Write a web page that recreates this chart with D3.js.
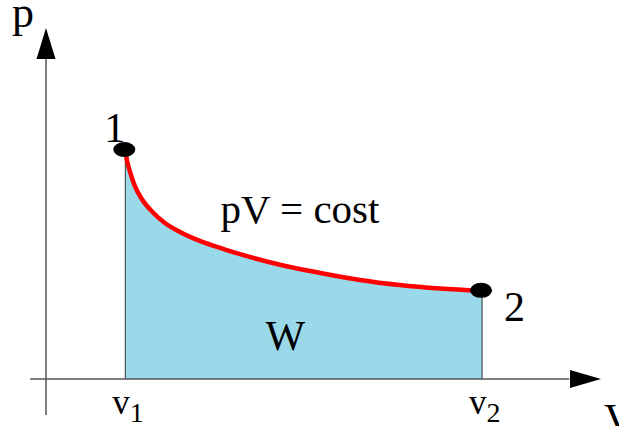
<!DOCTYPE html>
<html lang="en">
<head>
   <meta charset="UTF-8">
   <script src="https://cdn.jsdelivr.net/npm/d3@7/dist/d3.min.js"></script>
</head>
<body style="margin:0">
   <script>
      // isotherm (V, p in arbitrary units)
      const volume   = [1.0, 1.02, 1.06, 1.12, 1.21, 1.34, 1.5, 1.69, 1.94, 2.26, 2.57, 2.95, 3.46, 3.96, 4.46, 4.97, 5.5]
      const pressure = [5.87, 5.62, 5.31, 4.95, 4.61, 4.29, 4.0, 3.77, 3.54, 3.32, 3.13, 2.93, 2.72, 2.54, 2.41, 2.32, 2.26]
      const stateLabels = ['1', '2']
      const volumeLabels = ['1', '2']

      const WIDTH = 619, HEIGHT = 426
      const FONT = '"Liberation Serif", monospace'

      const svg = d3.select('body').append('svg')
         .attr('width', WIDTH)
         .attr('height', HEIGHT)
         .style('display', 'block')
         .style('font-family', FONT)

      // scales
      const xScale = d3.scaleLinear().domain([0, 7]).range([46, 601])
      const yScale = d3.scaleLinear().domain([0, 9]).range([379, 28])

      const data = volume.map((v, i) => ({ v, p: pressure[i] }))
      const first = data[0]
      const last = data[data.length - 1]

      // area W under the curve
      const area = d3.area()
         .x(d => xScale(d.v))
         .y0(yScale(0))
         .y1(d => yScale(d.p))
         .curve(d3.curveMonotoneX)

      svg.append('path')
         .datum(data)
         .attr('d', area)
         .attr('fill', '#99d9ea')

      // vertical edges at v1 and v2
      svg.selectAll('.edge')
         .data([first, last])
         .enter()
         .append('line')
            .attr('class', 'edge')
            .attr('x1', d => xScale(d.v))
            .attr('x2', d => xScale(d.v))
            .attr('y1', d => yScale(d.p))
            .attr('y2', yScale(0))
            .attr('stroke', '#333')
            .attr('stroke-width', 1)

      // axes
      const axisColor = '#555'
      svg.append('line')
         .attr('x1', xScale(-0.2)).attr('x2', xScale(6.6))
         .attr('y1', yScale(0)).attr('y2', yScale(0))
         .attr('stroke', axisColor).attr('stroke-width', 1.5)

      svg.append('line')
         .attr('x1', xScale(0)).attr('x2', xScale(0))
         .attr('y1', yScale(-0.92)).attr('y2', yScale(8.3))
         .attr('stroke', axisColor).attr('stroke-width', 1.5)

      // arrow heads
      const xTip = xScale(7), xY = yScale(0)
      svg.append('path')
         .attr('d', `M${xTip},${xY} L${xTip - 31},${xY - 9} L${xTip - 31},${xY + 9} Z`)
         .attr('fill', 'black')

      const yTipX = xScale(0), yTip = yScale(9)
      svg.append('path')
         .attr('d', `M${yTipX},${yTip} L${yTipX - 9.5},${yTip + 31} L${yTipX + 9.5},${yTip + 31} Z`)
         .attr('fill', 'black')

      // isotherm
      const line = d3.line()
         .x(d => xScale(d.v))
         .y(d => yScale(d.p))
         .curve(d3.curveMonotoneX)

      svg.append('path')
         .datum(data)
         .attr('d', line)
         .attr('fill', 'none')
         .attr('stroke', '#ff0000')
         .attr('stroke-width', 4.5)
         .attr('stroke-linecap', 'round')

      // state points
      svg.selectAll('.state')
         .data([first, last])
         .enter()
         .append('ellipse')
            .attr('class', 'state')
            .attr('cx', d => xScale(d.v) - 1)
            .attr('cy', d => yScale(d.p) - 0.5)
            .attr('rx', 11)
            .attr('ry', 7.5)
            .attr('fill', 'black')

      const label = (x, y, size, str) => svg.append('text')
         .attr('x', x)
         .attr('y', y)
         .attr('font-size', size)
         .style('font-family', FONT)
         .text(str)

      // state labels
      label(xScale(first.v) - 21, yScale(first.p) - 8, 42, stateLabels[0])
      label(xScale(last.v) + 22, yScale(last.p) + 30, 42, stateLabels[1])

      // v1, v2 under the axis
      const vLabels = svg.selectAll('.vlabel')
         .data([first, last])
         .enter()
         .append('text')
            .attr('class', 'vlabel')
            .attr('x', d => xScale(d.v) - 13)
            .attr('y', yScale(0) + 35)
            .attr('font-size', 35)
            .style('font-family', FONT)
      vLabels.append('tspan').text('v')
      vLabels.append('tspan')
         .attr('font-size', 28)
         .attr('dy', 8)
         .text((_, i) => volumeLabels[i])

      // axis names
      label(xScale(0) - 34, yScale(9) - 1, 44, 'p')
      label(xScale(7) + 3, yScale(0) + 54, 42, 'V')

      // annotations
      label(xScale(2.2), yScale(3.99), 41, 'pV = cost')
      label(xScale(2.77), yScale(0.74), 42, 'W')
   </script>
</body>
</html>
